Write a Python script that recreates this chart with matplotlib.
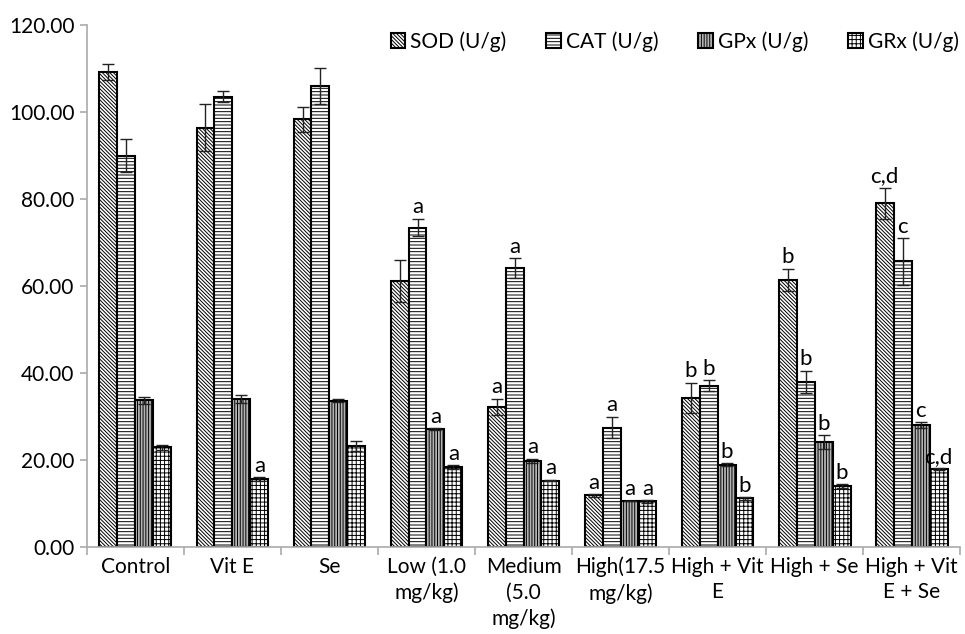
import numpy as np
import matplotlib
matplotlib.use('Agg')
from matplotlib import pyplot as plt

plt.rcParams['font.family'] = ['Lato', 'DejaVu Sans']
plt.rcParams['hatch.linewidth'] = 0.7

groups = ['Control', 'Vit E', 'Se', 'Low (1.0\nmg/kg)', 'Medium\n(5.0\nmg/kg)',
          'High(17.5\nmg/kg)', 'High + Vit\nE', 'High + Se', 'High + Vit\nE + Se']
series = ['SOD (U/g)', 'CAT (U/g)', 'GPx (U/g)', 'GRx (U/g)']

sod = [109.3, 96.5, 98.4, 61.2, 32.3, 11.9, 34.3, 61.5, 79.1]
cat = [90.0, 103.6, 106.0, 73.5, 64.2, 27.5, 37.1, 38.0, 65.7]
gpx = [33.8, 34.0, 33.7, 27.2, 19.8, 10.6, 19.0, 24.2, 28.0]
grx = [23.0, 15.6, 23.3, 18.4, 15.3, 10.5, 11.2, 14.0, 18.0]

sod_err = [1.8, 5.3, 2.9, 4.8, 1.8, 0.3, 3.5, 2.5, 3.6]
cat_err = [3.8, 1.2, 4.2, 2.0, 2.3, 2.5, 1.3, 2.6, 5.4]
gpx_err = [0.8, 0.9, 0.3, 0.2, 0.5, 0.1, 0.3, 1.6, 0.7]
grx_err = [0.6, 0.5, 1.2, 0.5, 0.2, 0.3, 0.3, 0.5, 0.2]

sod_lab = ['', '', '', '', 'a', 'a', 'b', 'b', 'c,d']
cat_lab = ['', '', '', 'a', 'a', 'a', 'b', 'b', 'c']
gpx_lab = ['', '', '', 'a', 'a', 'a', 'b', 'b', 'c']
grx_lab = ['', 'a', '', 'a', 'a', 'a', 'b', 'b', 'c,d']

vals = [sod, cat, gpx, grx]
errs = [sod_err, cat_err, gpx_err, grx_err]
labs = [sod_lab, cat_lab, gpx_lab, grx_lab]
hatches = ['\\' * 9, '-----', '||||||', '++++']
faces = ['white', 'white', '#b4b4b4', 'white']

fig = plt.figure(figsize=(9.65, 6.34), dpi=100)
ax = fig.add_axes([0.09, 0.137, 0.905, 0.823])

x = np.arange(len(groups))
w = 0.185
for i in range(4):
    pos = x + (i - 1.5) * w
    ax.bar(pos, vals[i], w, color=faces[i], edgecolor='black', linewidth=1.5,
           hatch=hatches[i], label=series[i])
    ax.errorbar(pos, vals[i], yerr=errs[i], fmt='none', ecolor='#222222',
                elinewidth=1, capsize=4, capthick=1)
    for p, v, e, t in zip(pos, vals[i], errs[i], labs[i]):
        if t:
            ax.annotate(t, (p, v + e), xytext=(0, 1), textcoords='offset points',
                        ha='center', va='bottom', fontsize=16)

ax.set_xlim(-0.5, len(groups) - 0.5)
ax.set_ylim(0, 120)
ax.set_yticks(np.arange(0, 121, 20))
ax.set_yticklabels(['%.2f' % v for v in np.arange(0, 121, 20)], fontsize=15)
ax.set_xticks(x)
ax.set_xticklabels(groups, fontsize=15, linespacing=1.35, va='top')
ax.set_xticks(np.arange(-0.5, len(groups)), minor=True)
ax.tick_params(axis='x', which='major', length=0, pad=7)
ax.tick_params(axis='x', which='minor', length=6, color='#aaaaaa', width=1.2)
ax.tick_params(axis='y', length=5, color='#aaaaaa', width=1.2, pad=4)

for s in ['top', 'right']:
    ax.spines[s].set_visible(False)
for s in ['left', 'bottom']:
    ax.spines[s].set_color('#aaaaaa')
    ax.spines[s].set_linewidth(1.2)

ax.legend(loc='upper right', ncol=4, frameon=False, fontsize=15,
          handlelength=0.7, handleheight=0.7, handletextpad=0.25,
          columnspacing=1.9, bbox_to_anchor=(1.02, 1.025))

fig.savefig('out.png', dpi=100)
